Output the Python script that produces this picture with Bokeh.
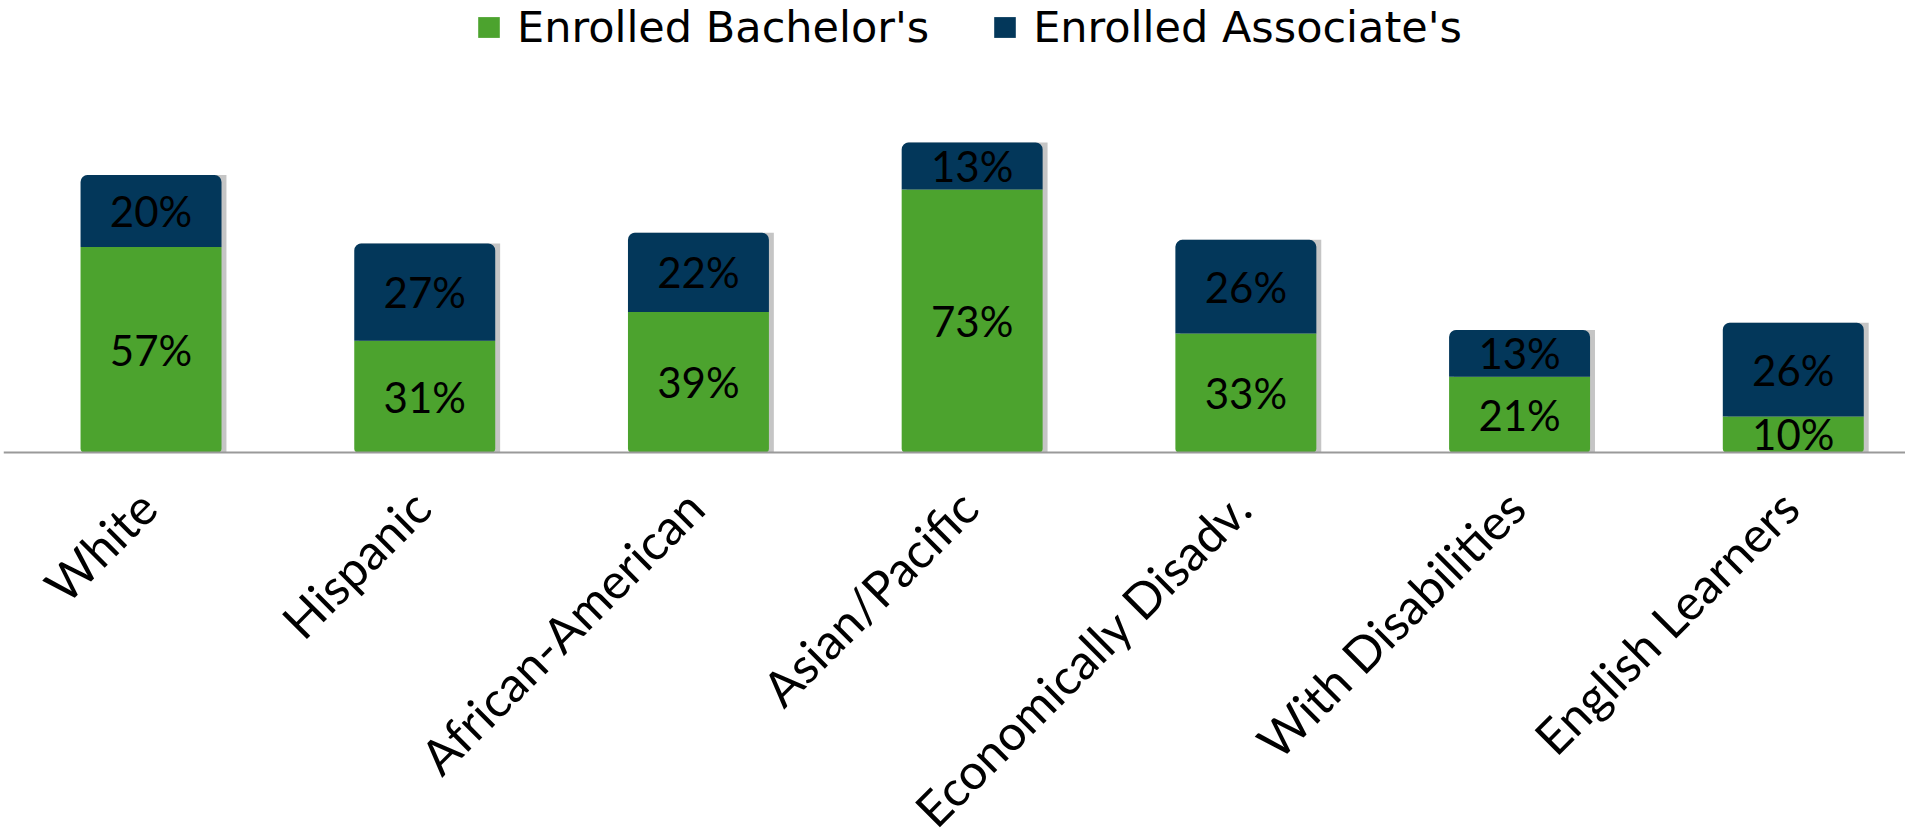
import math
from bokeh.plotting import figure
from bokeh.models import (ColumnDataSource, Range1d, Legend, LegendItem, Span)
from bokeh.core.properties import value
from bokeh.embed import file_html
from bokeh.resources import INLINE
from bokeh.transform import dodge

categories = ["White", "Hispanic", "African-American", "Asian/Pacific",
              "Economically Disadv.", "With Disabilities", "English Learners"]
bachelors = [57, 31, 39, 73, 33, 21, 10]
associates = [20, 27, 22, 13, 26, 13, 26]
series_names = ["Enrolled Bachelor's", "Enrolled Associate's"]

GREEN = "#4ca32e"
NAVY = "#03375a"

pos = list(range(len(categories)))
totals = [b + a for b, a in zip(bachelors, associates)]
src = ColumnDataSource(dict(
    x=pos,
    cat=categories,
    zero=[0] * len(pos),
    bach=bachelors,
    assoc=associates,
    top=totals,
    bach_mid=[b / 2 for b in bachelors],
    assoc_mid=[b + a / 2 for b, a in zip(bachelors, associates)],
    bach_lbl=[f"{v}%" for v in bachelors],
    assoc_lbl=[f"{v}%" for v in associates],
))

H = 832
BASE_PX = 452          # pixel row of the baseline inside the figure
PX_PER_UNIT = 3.604
Y_TOP = BASE_PX / PX_PER_UNIT
Y_BOTTOM = -(H - BASE_PX) / PX_PER_UNIT

p = figure(width=1905, height=H, output_backend="svg", toolbar_location=None,
           title=None,
           x_range=Range1d(-0.539, 6.410), y_range=Range1d(Y_BOTTOM, Y_TOP),
           min_border_left=3, min_border_right=0, min_border_top=0,
           min_border_bottom=0)
p.outline_line_color = None
p.xgrid.visible = False
p.ygrid.visible = False
p.yaxis.visible = False
p.xaxis.visible = False
p.background_fill_color = "white"
p.border_fill_color = "white"

BW = 0.515
# soft shadows on the right of the bars
p.vbar(x=dodge("x", 0.018, range=p.x_range), top="top", bottom=0, width=BW, source=src,
       fill_color="#7f7f7f", fill_alpha=0.45, line_color=None)
r1 = p.vbar(x="x", top="bach", bottom=0, width=BW, source=src,
            fill_color=GREEN, line_color=None, border_radius=[0, 0, 4, 4])
r2 = p.vbar(x="x", top="top", bottom="bach", width=BW, source=src,
            fill_color=NAVY, line_color=None, border_radius=[7, 7, 0, 0])

# baseline (category axis line)
p.add_layout(Span(location=0, dimension="width", line_color="#9a9a9a", line_width=2))

LBL_FONT = value("Lato")
p.text(x="x", y="bach_mid", text="bach_lbl", source=src, text_align="center",
       text_baseline="middle", text_font=LBL_FONT, text_font_size="42px", text_color="black")
p.text(x="x", y="assoc_mid", text="assoc_lbl", source=src, text_align="center",
       text_baseline="middle", text_font=LBL_FONT, text_font_size="42px", text_color="black")

# category tick labels, rotated 45 degrees, ending under each bar
p.text(x="x", y="zero", text="cat", source=src, angle=math.pi / 4,
       x_offset=-4, y_offset=46, text_align="right", text_baseline="middle",
       text_font=LBL_FONT, text_font_size="49px", text_color="black")

legend = Legend(items=[LegendItem(label=series_names[0], renderers=[r1]),
                       LegendItem(label=series_names[1], renderers=[r2])],
                location=(472, 780), orientation="horizontal",
                label_text_font="DejaVu Sans",
                label_text_font_size="43px", label_text_color="black",
                glyph_width=27, glyph_height=26, label_standoff=15, spacing=62,
                padding=0, margin=0, border_line_color=None, background_fill_alpha=0)
p.add_layout(legend)

open("out.html", "w").write(file_html(p, INLINE))
